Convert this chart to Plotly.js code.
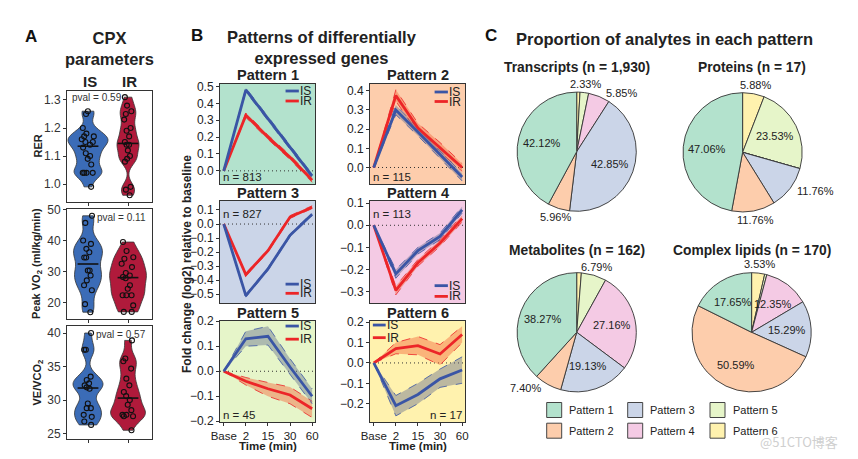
<!DOCTYPE html>
<html><head><meta charset="utf-8">
<script src="https://cdn.plot.ly/plotly-3.0.1.min.js"></script>
<style>html,body{margin:0;padding:0;background:#fff}#chart{width:858px;height:459px}</style>
</head><body><div id="chart"></div>
<script>
// ---------- Panel A: CPX parameters ----------
const groups = ['IS', 'IR'];
const rerIS = [1.26, 1.25, 1.20, 1.18, 1.17, 1.17, 1.16, 1.15, 1.15, 1.14, 1.13, 1.11, 1.10, 1.09, 1.07, 1.04, 1.04, 1.04, 1.04, 0.99];
const rerIR = [1.31, 1.28, 1.26, 1.25, 1.23, 1.20, 1.19, 1.17, 1.15, 1.14, 1.14, 1.12, 1.10, 1.09, 1.08, 0.99, 0.98, 0.96];
const vo2IS = [48, 45.7, 40, 38.9, 37.3, 36.2, 34.5, 34.5, 30.3, 30.3, 28.7, 27.1, 25.5, 23.9, 19.4, 16.8];
const vo2IR = [39.5, 36.6, 34.6, 34.1, 32.5, 31.4, 29.5, 28.7, 28.2, 27.8, 25.5, 24.4, 22.3, 22.3, 22.3, 19, 16.9, 16.9];
const veIS = [40, 37.5, 37.5, 33.5, 33, 32.5, 32.2, 31.9, 31.7, 29.5, 28.8, 28.8, 27.8, 27.5, 26.8, 26.3];
const veIR = [38.9, 36.2, 35.8, 34.7, 33.2, 32.2, 31.2, 30.6, 30.0, 29.3, 28.5, 27.8, 27.8, 27.6, 27.6, 25.5];
const pvals = ['0.59', '0.11', '0.57'];

// ---------- Panel B: temporal patterns ----------
const timeLabels = ['Base', '2', '15', '30', '60'];
const patternNames = ['Pattern 1', 'Pattern 2', 'Pattern 3', 'Pattern 4', 'Pattern 5', 'Pattern 6'];
const patternN = [813, 115, 827, 113, 45, 17];

const p1IS = [0, 0.48, 0.31, 0.14, -0.03];
const p1ISlo = [0, 0.468, 0.298, 0.128, -0.042];
const p1IShi = [0, 0.492, 0.322, 0.152, -0.018];
const p1IR = [0, 0.33, 0.20, 0.08, -0.055];
const p1IRlo = [0, 0.317, 0.187, 0.067, -0.068];
const p1IRhi = [0, 0.343, 0.213, 0.093, -0.042];

const p2IS = [0, 0.30, 0.185, 0.07, -0.05];
const p2ISlo = [0, 0.275, 0.165, 0.05, -0.07];
const p2IShi = [0, 0.325, 0.205, 0.09, -0.03];
const p2IR = [0, 0.375, 0.205, 0.105, 0.0];
const p2IRlo = [0, 0.345, 0.18, 0.08, -0.02];
const p2IRhi = [0, 0.405, 0.23, 0.13, 0.02];

const p3IS = [0, -0.51, -0.32, -0.08, 0.07];
const p3ISlo = [0, -0.52, -0.33, -0.09, 0.06];
const p3IShi = [0, -0.50, -0.31, -0.07, 0.08];
const p3IR = [0, -0.36, -0.19, 0.05, 0.12];
const p3IRlo = [0, -0.37, -0.20, 0.04, 0.11];
const p3IRhi = [0, -0.35, -0.18, 0.06, 0.13];

const p4IS = [0, -0.22, -0.115, -0.05, 0.07];
const p4ISlo = [0, -0.24, -0.13, -0.065, 0.055];
const p4IShi = [0, -0.20, -0.10, -0.035, 0.085];
const p4IR = [0, -0.295, -0.17, -0.08, 0.03];
const p4IRlo = [0, -0.315, -0.185, -0.095, 0.015];
const p4IRhi = [0, -0.275, -0.155, -0.065, 0.045];

const p5IS = [0, 0.13, 0.14, 0.017, -0.10];
const p5ISlo = [0, 0.10, 0.105, -0.015, -0.13];
const p5IShi = [0, 0.16, 0.18, 0.05, -0.07];
const p5IR = [0, -0.04, -0.07, -0.095, -0.15];
const p5IRlo = [0, -0.055, -0.10, -0.13, -0.185];
const p5IRhi = [0, -0.025, -0.045, -0.063, -0.12];

const p6IS = [0, -0.21, -0.155, -0.078, -0.035];
const p6ISlo = [0, -0.26, -0.20, -0.12, -0.10];
const p6IShi = [0, -0.16, -0.10, -0.03, 0.03];
const p6IR = [0, 0.07, 0.085, 0.044, 0.14];
const p6IRlo = [0, 0.045, 0.04, -0.01, 0.10];
const p6IRhi = [0, 0.10, 0.13, 0.09, 0.18];

// ---------- Panel C: proportions (%) ----------
const pieLabels = patternNames;
const transcripts = [42.12, 5.96, 42.85, 5.85, 2.33, 0.89];
const proteins = [47.06, 11.76, 11.76, 0, 23.53, 5.88];
const metabolites = [38.27, 7.40, 19.13, 27.16, 6.79, 1.25];
const lipids = [17.65, 50.59, 15.29, 12.35, 0.59, 3.53];
const pieTitles = ['Transcripts (n = 1,930)', 'Proteins (n = 17)', 'Metabolites (n = 162)', 'Complex lipids (n = 170)'];

// ---------- styling ----------
const W = 858, H = 459;
const FONT = 'Liberation Sans, Arial, Helvetica, sans-serif';
const pastel = ['#B3E2CD', '#FDCDAC', '#CBD5E8', '#F4CAE4', '#E6F5C9', '#FFF2AE'];
const colIS = '#3A55A5', colIR = '#EC2528';
const violIS = '#3B6CB7', violIR = '#B01A3B';
const bandIS = 'rgba(95,105,140,0.42)', bandIR = 'rgba(245,105,60,0.45)';
const px = x => x / W, py = y => 1 - y / H;

const traces = [];
const layout = {
  width: W, height: H, margin: {l: 0, r: 0, t: 0, b: 0},
  paper_bgcolor: '#fff', plot_bgcolor: 'rgba(0,0,0,0)',
  showlegend: false, font: {family: FONT, color: '#222'},
  annotations: [], shapes: []
};
const ann = (x, y, text, size, o = {}) => layout.annotations.push(Object.assign({
  xref: 'paper', yref: 'paper', x: px(x), y: py(y), text: text, showarrow: false,
  xanchor: 'center', yanchor: 'middle', font: {family: FONT, size: size, color: '#222'}
}, o));

function median(a) {
  const s = a.slice().sort((p, q) => p - q), n = s.length;
  return n % 2 ? s[(n - 1) / 2] : (s[n / 2 - 1] + s[n / 2]) / 2;
}

// ----- Panel A -----
const violinSets = [
  {IS: rerIS, IR: rerIR, dom: [91, 202], range: [0.936, 1.332], dtick: 0.1, fmt: '.1f', bw: 0.022, wIS: 1.0, wIR: 0.55, title: 'RER', pvx: 'left'},
  {IS: vo2IS, IR: vo2IR, dom: [209, 319], range: [14.6, 50.2], dtick: 10, fmt: 'd', bw: 2.6, wIS: 0.72, wIR: 0.92, title: 'Peak VO<sub>2</sub> (ml/kg/min)', pvx: 'right'},
  {IS: veIS, IR: veIR, dom: [326, 439], range: [24.2, 41.05], dtick: 5, fmt: 'd', bw: 1.1, wIS: 0.75, wIR: 0.87, title: 'VE/VCO<sub>2</sub>', pvx: 'right'}
];
violinSets.forEach((v, i) => {
  const xa = i === 0 ? 'x' : 'x' + (i + 1), ya = i === 0 ? 'y' : 'y' + (i + 1);
  const xk = i === 0 ? 'xaxis' : 'xaxis' + (i + 1), yk = i === 0 ? 'yaxis' : 'yaxis' + (i + 1);
  [[v.IS, 0, violIS, v.wIS], [v.IR, 1, violIR, v.wIR]].forEach(([vals, pos, col, w], g) => {
    traces.push({
      type: 'violin', x0: pos, y: vals, xaxis: xa, yaxis: ya, name: groups[g],
      fillcolor: col, opacity: 1, line: {color: '#333', width: 0.8},
      points: 'all', jitter: 0.4, pointpos: 0, spanmode: 'hard', bandwidth: v.bw,
      width: w, scalemode: 'width', box: {visible: false}, meanline: {visible: false},
      marker: {symbol: 'circle-open', size: 5, color: '#111', line: {width: 1.1, color: '#111'}},
      hoverinfo: 'y'
    });
    const m = median(vals);
    traces.push({type: 'scatter', mode: 'lines', x: [pos - 0.26, pos + 0.26], y: [m, m], xaxis: xa, yaxis: ya,
      line: {color: '#111', width: 1.6}, hoverinfo: 'skip'});
  });
  layout[xk] = {domain: [px(67), px(152)], anchor: ya, type: 'linear', range: [-0.525, 1.6],
    showgrid: false, zeroline: false, showline: true, mirror: true, linecolor: '#333', linewidth: 1,
    tickvals: [0, 1], ticks: 'outside', ticklen: 3, tickcolor: '#333', showticklabels: false, fixedrange: true};
  layout[yk] = {domain: [py(v.dom[1]), py(v.dom[0])], anchor: xa, range: v.range, dtick: v.dtick, tick0: 0,
    tickformat: v.fmt, showgrid: false, zeroline: false, showline: true, mirror: true, linecolor: '#333', linewidth: 1,
    ticks: 'outside', ticklen: 3, tickcolor: '#333', tickfont: {family: FONT, size: 12, color: '#333'}, fixedrange: true};
  ann(37, (v.dom[0] + v.dom[1]) / 2, '<b>' + v.title + '</b>', 11, {textangle: -90});
  if (v.pvx === 'left') ann(70, v.dom[0] + 7, 'pval = ' + pvals[i], 10, {xanchor: 'left', font: {family: FONT, size: 10, color: '#333'}});
  else ann(148, v.dom[0] + 8, 'pval = ' + pvals[i], 10, {xanchor: 'right', font: {family: FONT, size: 10, color: '#333'}});
});
ann(31, 37, '<b>A</b>', 17, {font: {family: FONT, size: 17, color: '#111'}});
ann(109, 49, '<b>CPX<br>parameters</b>', 16.5, {font: {family: FONT, size: 16.5, color: '#222'}});
ann(90, 82, '<b>IS</b>', 15);
ann(129, 82, '<b>IR</b>', 15);

// ----- Panel B -----
const pat = [
  [p1IS, p1ISlo, p1IShi, p1IR, p1IRlo, p1IRhi],
  [p2IS, p2ISlo, p2IShi, p2IR, p2IRlo, p2IRhi],
  [p3IS, p3ISlo, p3IShi, p3IR, p3IRlo, p3IRhi],
  [p4IS, p4ISlo, p4IShi, p4IR, p4IRlo, p4IRhi],
  [p5IS, p5ISlo, p5IShi, p5IR, p5IRlo, p5IRhi],
  [p6IS, p6ISlo, p6IShi, p6IR, p6IRlo, p6IRhi]
];
const colX = [[220, 315], [370, 465]];
const rowY = [[84, 184], [201, 303], [321, 422]];
const yRanges = [[-0.078, 0.515], [-0.086, 0.435], [-0.562, 0.164], [-0.352, 0.11], [-0.203, 0.201], [-0.29, 0.206]];
// legend placement (domain fractions): [lineX0, lineX1, textX, yIS, yIR]
const legPos = [
  [0.69, 0.83, 0.835, 0.93, 0.83],
  [0.68, 0.82, 0.825, 0.92, 0.825],
  [0.69, 0.83, 0.835, 0.185, 0.095],
  [0.68, 0.82, 0.825, 0.17, 0.065],
  [0.69, 0.83, 0.835, 0.95, 0.82],
  [0.03, 0.165, 0.17, 0.96, 0.835]
];
// n-label placement: [xfrac, yfrac, anchor]
const nPos = [[0.02, 0.07, 'left'], [0.02, 0.07, 'left'], [0.02, 0.87, 'left'], [0.02, 0.87, 'left'], [0.02, 0.07, 'left'], [0.98, 0.07, 'right']];

pat.forEach((d, k) => {
  const idx = k + 4, xa = 'x' + idx, ya = 'y' + idx;
  const c = k % 2, r = Math.floor(k / 2);
  const [IS, ISlo, IShi, IR, IRlo, IRhi] = d;
  const band = (lo, hi, col, fill) => {
    traces.push({type: 'scatter', mode: 'lines', x: timeLabels, y: lo, xaxis: xa, yaxis: ya,
      line: {color: col, width: 0.8, dash: 'dash'}, hoverinfo: 'skip'});
    traces.push({type: 'scatter', mode: 'lines', x: timeLabels, y: hi, xaxis: xa, yaxis: ya, fill: 'tonexty',
      fillcolor: fill, line: {color: col, width: 0.8, dash: 'dash'}, hoverinfo: 'skip'});
  };
  band(IRlo, IRhi, colIR, bandIR);
  band(ISlo, IShi, colIS, bandIS);
  traces.push({type: 'scatter', mode: 'lines', x: timeLabels, y: IR, xaxis: xa, yaxis: ya, name: 'IR', line: {color: colIR, width: 2.8}});
  traces.push({type: 'scatter', mode: 'lines', x: timeLabels, y: IS, xaxis: xa, yaxis: ya, name: 'IS', line: {color: colIS, width: 2.8}});

  const bottom = r === 2;
  layout['xaxis' + idx] = {domain: [px(colX[c][0]), px(colX[c][1])], anchor: ya, type: 'category',
    categoryorder: 'array', categoryarray: timeLabels, range: [-0.17, 4.13],
    showgrid: false, zeroline: false, showline: true, mirror: true, linecolor: '#333', linewidth: 1,
    ticks: bottom ? 'outside' : '', ticklen: 3, tickcolor: '#333', showticklabels: bottom,
    tickfont: {family: FONT, size: 11.5, color: '#222'}, fixedrange: true};
  layout['yaxis' + idx] = {domain: [py(rowY[r][1]), py(rowY[r][0])], anchor: xa, range: yRanges[k],
    dtick: 0.1, tick0: 0, tickformat: '.1f', showgrid: false, zeroline: false, showline: true, mirror: true,
    linecolor: '#333', linewidth: 1, ticks: 'outside', ticklen: 3, tickcolor: '#333',
    tickfont: {family: FONT, size: 12, color: '#222'}, fixedrange: true};

  layout.shapes.push({type: 'rect', xref: xa + ' domain', yref: ya + ' domain', x0: 0, x1: 1, y0: 0, y1: 1,
    fillcolor: pastel[k], line: {width: 0}, layer: 'below'});
  layout.shapes.push({type: 'line', xref: xa + ' domain', yref: ya, x0: 0, x1: 1, y0: 0, y1: 0,
    line: {color: '#333', width: 1, dash: '1px,3px'}, layer: 'below'});
  const L = legPos[k];
  [[colIS, 'IS', L[3]], [colIR, 'IR', L[4]]].forEach(([col, lab, yy]) => {
    layout.shapes.push({type: 'line', xref: xa + ' domain', yref: ya + ' domain', x0: L[0], x1: L[1], y0: yy, y1: yy,
      line: {color: col, width: 2.8}});
    layout.annotations.push({xref: xa + ' domain', yref: ya + ' domain', x: L[2], y: yy, text: lab, showarrow: false,
      xanchor: 'left', yanchor: 'middle', borderpad: 0, font: {family: FONT, size: 12, color: '#222'}});
  });
  const N = nPos[k];
  layout.annotations.push({xref: xa + ' domain', yref: ya + ' domain', x: N[0], y: N[1], text: 'n = ' + patternN[k],
    showarrow: false, xanchor: N[2], yanchor: 'middle', borderpad: 0, font: {family: FONT, size: 11.5, color: '#222'}});
  ann((colX[c][0] + colX[c][1]) / 2, rowY[r][0] - 8.5, '<b>' + patternNames[k] + '</b>', 14.5, {borderpad: 0});
});
ann(197, 35, '<b>B</b>', 17, {font: {family: FONT, size: 17, color: '#111'}});
ann(322, 47, '<b>Patterns of differentially<br>expressed genes</b>', 16.5);
ann(187, 264, '<b>Fold change (log2) relative to baseline</b>', 12, {textangle: -90});
ann(267.5, 446, '<b>Time (min)</b>', 11.5);
ann(417.5, 446, '<b>Time (min)</b>', 11.5);

// ----- Panel C -----
const pies = [
  [transcripts, 576.7, 151.7, 576.7, 67.5],
  [proteins, 742.6, 152.3, 751.7, 67.5],
  [metabolites, 576.7, 332.3, 576.7, 250.8],
  [lipids, 751.6, 332.3, 751.7, 250.8]
];
const R = 59.6;
pies.forEach(([vals, cx, cy, tx, ty], i) => {
  // Pattern 1 runs counterclockwise from 12 o'clock: drawn clockwise in reverse order
  traces.push({
    type: 'pie', values: vals.slice().reverse(), labels: pieLabels.slice().reverse(),
    sort: false, direction: 'clockwise', rotation: 0,
    domain: {x: [px(cx - R), px(cx + R)], y: [py(cy + R), py(cy - R)]},
    marker: {colors: pastel.slice().reverse(), line: {color: '#333', width: 0.9}},
    textinfo: 'none', hoverinfo: 'label+percent', showlegend: false
  });
  ann(tx, ty, '<b>' + pieTitles[i] + '</b>', 13.8);
  // slice labels placed at each slice's mid-angle (counterclockwise from 12 o'clock)
  const total = vals.reduce((a, b) => a + b, 0);
  let cum = 0;
  vals.forEach(v => {
    const th = 2 * Math.PI * (cum + v / 2) / total;
    cum += v;
    if (v <= 2) return;
    const s = Math.sin(th), co = Math.cos(th);
    const label = v.toFixed(2) + '%';
    if (v >= 12) {
      ann(cx - s * 0.6 * R, cy - co * 0.6 * R, label, 11, {borderpad: 0});
    } else if (Math.abs(s) < 0.35) {
      ann(cx - s * (R + 9), cy - co * (R + 9), label, 11, {borderpad: 0});
    } else {
      const ex = cx - s * R, ey = cy - co * R - co * 4;
      ann(ex + (s < 0 ? 6 : -6), ey, label, 11, {borderpad: 0, xanchor: s < 0 ? 'left' : 'right'});
    }
  });
});
ann(664, 39, '<b>Proportion of analytes in each pattern</b>', 16.5);
ann(491, 36, '<b>C</b>', 17, {font: {family: FONT, size: 17, color: '#111'}});

// legend for pies (column-major, 3 columns x 2 rows)
const legCols = [546.7, 627.7, 710];
const legRows = [410, 430.7];
pieLabels.forEach((lab, i) => {
  const cxl = legCols[Math.floor(i / 2)], cyl = legRows[i % 2];
  layout.shapes.push({type: 'rect', xref: 'paper', yref: 'paper', x0: px(cxl), x1: px(cxl + 15),
    y0: py(cyl + 7.5), y1: py(cyl - 7.5), fillcolor: pastel[i], line: {color: '#444', width: 1}});
  ann(cxl + 20.5, cyl, lab, 11, {xanchor: 'left'});
});
ann(799, 441, '@51CTO博客', 13, {font: {family: 'Noto Sans CJK SC, ' + FONT, size: 13, color: '#cfcfcf'}});

Plotly.newPlot('chart', traces, layout, {staticPlot: true, displayModeBar: false});
</script></body></html>
